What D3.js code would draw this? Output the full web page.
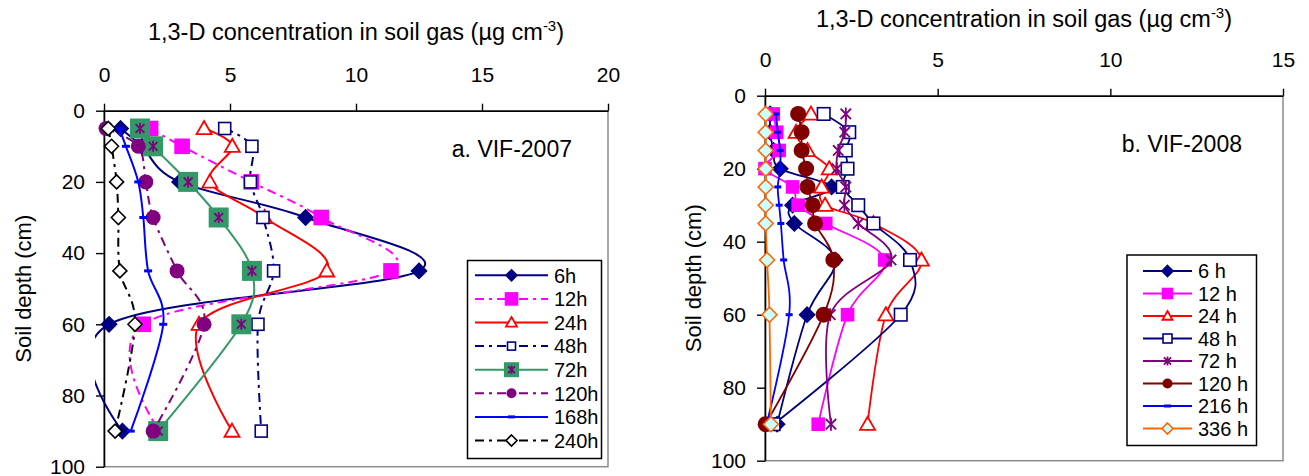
<!DOCTYPE html>
<html>
<head>
<meta charset="utf-8">
<script src="https://d3js.org/d3.v7.min.js"></script>
<style>
body { margin: 0; background: #fff; }
text { font-family: "Liberation Sans", Arial, sans-serif; fill: #000; }
</style>
</head>
<body>
<script>
// ---- Data: VIF-2007 (panel a) ----
var depth2007 = [5, 10, 20, 30, 45, 60, 90];
var xTicks2007 = [0, 5, 10, 15, 20];
var names2007 = ["6h", "12h", "24h", "48h", "72h", "120h", "168h", "240h"];
var a6h   = [0.66, 1.5, 3.0, 8.0, 12.5, 0.2, 0.73];
var a12h  = [1.85, 3.1, 5.85, 8.62, 11.39, 1.56, 2.2];
var a24h  = [3.97, 5.09, 4.2, 6.37, 8.84, 3.77, 5.08];
var a48h  = [4.79, 5.87, 5.81, 6.31, 6.73, 6.11, 6.24];
var a72h  = [1.43, 1.95, 3.34, 4.55, 5.87, 5.45, 2.15];
var a120h = [0.08, 1.36, 1.66, 1.95, 2.9, 3.97, 1.95];
var a168h = [0.6, 0.87, 1.36, 1.56, 1.75, 2.35, 1.06];
var a240h = [0.17, 0.3, 0.5, 0.57, 0.63, 1.23, 0.44];

// ---- Data: VIF-2008 (panel b) ----
var depth2008 = [5, 10, 15, 20, 25, 30, 35, 45, 60, 90];
var xTicks2008 = [0, 5, 10, 15];
var names2008 = ["6 h", "12 h", "24 h", "48 h", "72 h", "120 h", "216 h", "336 h"];
var b6h   = [0.15, 0.15, 0.25, 0.44, 1.93, 0.8, 0.85, 2.03, 1.22, 0.35];
var b12h  = [0.24, 0.34, 0.41, 0.0, 0.8, 0.96, 1.76, 3.47, 2.39, 1.54];
var b24h  = [1.33, 0.9, 1.23, 1.86, 1.64, 1.74, 3.14, 4.53, 3.5, 2.97];
var b48h  = [1.7, 2.44, 2.34, 2.39, 2.25, 2.7, 3.14, 4.2, 3.93, 0.25];
var b72h  = [2.34, 2.31, 2.12, 2.08, 2.34, 2.3, 2.7, 3.65, 1.89, 1.91];
var b120h = [0.96, 1.06, 1.06, 1.19, 1.23, 1.38, 1.45, 1.98, 1.7, 0.02];
var b216h = [0.32, 0.37, 0.44, 0.44, 0.37, 0.41, 0.46, 0.54, 0.7, 0.05];
var b336h = [0.02, 0.02, 0.02, 0.02, 0.02, 0.02, 0.02, 0.06, 0.13, 0.17];

var yTicks = [0, 20, 40, 60, 80, 100];

// ---- Styles ----
var dashDot = "9,5,3,5";
var style2007 = [
  {line: "#000080", dash: null,    marker: "diamond",  fill: "#000080", stroke: "#000080", size: 15, lsize: 11},
  {line: "#FF00FF", dash: dashDot, marker: "square",   fill: "#FF00FF", stroke: "#FF00FF", size: 14, lsize: 12},
  {line: "#FF0000", dash: null,    marker: "triangle", fill: "#fff",    stroke: "#FF0000", size: 15, lsize: 11},
  {line: "#000080", dash: dashDot, marker: "square",   fill: "#fff",    stroke: "#000080", size: 12, lsize: 8},
  {line: "#339966", dash: null,    marker: "sqstar",   fill: "#339966", stroke: "#800080", size: 20, lsize: 15},
  {line: "#800080", dash: dashDot, marker: "circle",   fill: "#800080", stroke: "#800080", size: 15, lsize: 10},
  {line: "#0000FF", dash: null,    marker: "dash",     fill: "#0000FF", stroke: "#0000FF", size: 8,  lsize: 7},
  {line: "#000000", dash: dashDot, marker: "diamond",  fill: "#fff",    stroke: "#000000", size: 14, lsize: 11}
];
var style2008 = [
  {line: "#000080", dash: null, marker: "diamond",  fill: "#000080", stroke: "#000080", size: 15, lsize: 11},
  {line: "#FF00FF", dash: null, marker: "square",   fill: "#FF00FF", stroke: "#FF00FF", size: 12, lsize: 10},
  {line: "#FF0000", dash: null, marker: "triangle", fill: "#fff",    stroke: "#FF0000", size: 15, lsize: 10},
  {line: "#000080", dash: null, marker: "square",   fill: "#fff",    stroke: "#000080", size: 12.5, lsize: 9},
  {line: "#800080", dash: null, marker: "asterisk", fill: "none",    stroke: "#800080", size: 13, lsize: 9},
  {line: "#800000", dash: null, marker: "circle",   fill: "#800000", stroke: "#800000", size: 16, lsize: 10},
  {line: "#0000FF", dash: null, marker: "dash",     fill: "#0000FF", stroke: "#0000FF", size: 7,  lsize: 7},
  {line: "#FF6600", dash: null, marker: "diamond",  fill: "#CCFFFF", stroke: "#FF6600", size: 15, lsize: 11}
];

var svg = d3.select("body")
    .append("svg")
    .attr("width", 1309)
    .attr("height", 476);

var defs = svg.append("defs");

//Draw one marker centred at (cx, cy)
function drawMarker(g, st, cx, cy, s) {
    var m = g.append("g").attr("transform", "translate(" + cx + "," + cy + ")");
    var h = s / 2;
    if (st.marker == "diamond") {
        m.append("path").attr("d", "M0," + (-h) + "L" + h + ",0L0," + h + "L" + (-h) + ",0Z")
            .attr("fill", st.fill).attr("stroke", st.stroke).attr("stroke-width", 1.6);
    } else if (st.marker == "square") {
        m.append("rect").attr("x", -h).attr("y", -h).attr("width", s).attr("height", s)
            .attr("fill", st.fill).attr("stroke", st.stroke).attr("stroke-width", 1.6);
    } else if (st.marker == "triangle") {
        m.append("path").attr("d", "M0," + (-h) + "L" + h + "," + (h * 0.75) + "L" + (-h) + "," + (h * 0.75) + "Z")
            .attr("fill", st.fill).attr("stroke", st.stroke).attr("stroke-width", 1.8);
    } else if (st.marker == "circle") {
        m.append("circle").attr("r", h).attr("fill", st.fill);
    } else if (st.marker == "dash") {
        m.append("rect").attr("x", -h).attr("y", -1.5).attr("width", s).attr("height", 3).attr("fill", st.fill);
    } else if (st.marker == "asterisk" || st.marker == "sqstar") {
        var a = h;
        if (st.marker == "sqstar") {
            m.append("rect").attr("x", -h).attr("y", -h).attr("width", s).attr("height", s).attr("fill", st.fill);
            a = h * 0.55;
        }
        m.append("path")
            .attr("d", "M0," + (-a) + "V" + a + "M" + (-a * 0.8) + "," + (-a * 0.8) + "L" + (a * 0.8) + "," + (a * 0.8) +
                       "M" + (a * 0.8) + "," + (-a * 0.8) + "L" + (-a * 0.8) + "," + (a * 0.8))
            .attr("fill", "none").attr("stroke", st.stroke).attr("stroke-width", 1.8);
    }
}

function drawPanel(p) {
    var xScale = d3.scaleLinear().domain([0, p.xmax]).range([p.left, p.right]);
    var yScale = d3.scaleLinear().domain([0, 100]).range([p.top, p.bottom]);

    //Lines are cut a little to the left of the y axis, like the original chart
    defs.append("clipPath").attr("id", p.id)
        .append("rect")
        .attr("x", p.left - 9).attr("y", 0)
        .attr("width", p.right - p.left + 60).attr("height", 476);

    //Plot area border (grey), axes drawn on top
    svg.append("rect")
        .attr("x", p.left).attr("y", p.top)
        .attr("width", p.right - p.left).attr("height", p.bottom - p.top)
        .attr("fill", "#fff").attr("stroke", "#8c8c8c").attr("stroke-width", 1.5);

    var xAxis = d3.axisTop(xScale).tickValues(p.xTicks).tickSize(7).tickSizeOuter(0).tickPadding(22);
    var yAxis = d3.axisLeft(yScale).tickValues(yTicks).tickSize(8).tickSizeOuter(0).tickPadding(11);

    var gx = svg.append("g").attr("transform", "translate(0," + p.top + ")").call(xAxis);
    var gy = svg.append("g").attr("transform", "translate(" + p.left + ",0)").call(yAxis);
    [gx, gy].forEach(function(g) {
        g.select(".domain").attr("stroke", "#000").attr("stroke-width", 1.6);
        g.selectAll(".tick line").attr("stroke", "#000").attr("stroke-width", 1.4);
        g.selectAll(".tick text").attr("font-size", "21px").attr("font-family", "Liberation Sans, Arial, sans-serif").attr("fill", "#000");
    });

    //Axis titles
    var t = svg.append("text")
        .attr("x", (p.left + p.right) / 2)
        .attr("y", p.titleY)
        .attr("text-anchor", "middle")
        .attr("font-size", "23.5px");
    t.append("tspan").text("1,3-D concentration in soil gas (\u00b5g cm");
    t.append("tspan").attr("dy", -9).attr("font-size", "15px").text("-3");
    t.append("tspan").attr("dy", 9).text(")");

    svg.append("text")
        .attr("transform", "translate(" + p.ylabX + "," + ((p.top + p.bottom) / 2) + ") rotate(-90)")
        .attr("text-anchor", "middle")
        .attr("dy", "0.35em")
        .attr("font-size", "22px")
        .text("Soil depth (cm)");

    //Panel label
    svg.append("text")
        .attr("x", p.tagX).attr("y", p.tagY)
        .attr("text-anchor", "end")
        .attr("font-size", "23px")
        .text(p.tag);

    //Series: smoothed lines plus markers
    var line = d3.line()
        .x(function(d) { return xScale(d.v); })
        .y(function(d) { return yScale(d.d); })
        .curve(d3.curveCatmullRom.alpha(0));

    p.series.forEach(function(vals, i) {
        var st = p.styles[i];
        var pts = vals.map(function(v, j) { return {v: v, d: p.depths[j]}; });
        svg.append("path")
            .datum(pts)
            .attr("d", line)
            .attr("clip-path", "url(#" + p.id + ")")
            .attr("fill", "none")
            .attr("stroke", st.line)
            .attr("stroke-width", p.lw)
            .attr("stroke-dasharray", st.dash);
        var g = svg.append("g");
        pts.forEach(function(d) {
            drawMarker(g, st, xScale(d.v), yScale(d.d), st.size);
        });
    });

    //Legend
    var L = p.legend;
    svg.append("rect")
        .attr("x", L.x0).attr("y", L.y0)
        .attr("width", L.x1 - L.x0).attr("height", L.y1 - L.y0)
        .attr("fill", "#fff").attr("stroke", "#000").attr("stroke-width", 1.5);
    p.names.forEach(function(name, i) {
        var st = p.styles[i];
        var yy = L.first + i * L.step;
        svg.append("line")
            .attr("x1", L.lx0).attr("x2", L.lx1).attr("y1", yy).attr("y2", yy)
            .attr("stroke", st.line).attr("stroke-width", p.lw)
            .attr("stroke-dasharray", st.dash);
        drawMarker(svg, st, (L.lx0 + L.lx1) / 2, yy, st.lsize);
        svg.append("text")
            .attr("x", L.tx).attr("y", yy)
            .attr("dy", "0.36em")
            .attr("font-size", "20px")
            .text(name);
    });
}

drawPanel({
    id: "clipA",
    left: 104, right: 608, top: 110.7, bottom: 466.7, xmax: 20, xTicks: xTicks2007,
    titleY: 40, ylabX: 23, tag: "a. VIF-2007", tagX: 572, tagY: 157, lw: 2,
    depths: depth2007, names: names2007, styles: style2007,
    series: [a6h, a12h, a24h, a48h, a72h, a120h, a168h, a240h],
    legend: {x0: 467.5, x1: 601.5, y0: 260.5, y1: 458.5, lx0: 475, lx1: 548, tx: 554, first: 275.3, step: 23.6}
});

drawPanel({
    id: "clipB",
    left: 765, right: 1283, top: 95.7, bottom: 460.7, xmax: 15, xTicks: xTicks2008,
    titleY: 27, ylabX: 693, tag: "b. VIF-2008", tagX: 1242, tagY: 152, lw: 1.8,
    depths: depth2008, names: names2008, styles: style2008,
    series: [b6h, b12h, b24h, b48h, b72h, b120h, b216h, b336h],
    legend: {x0: 1127, x1: 1256.5, y0: 255, y1: 445.5, lx0: 1143, lx1: 1192, tx: 1198, first: 271, step: 22.5}
});
</script>
</body>
</html>
